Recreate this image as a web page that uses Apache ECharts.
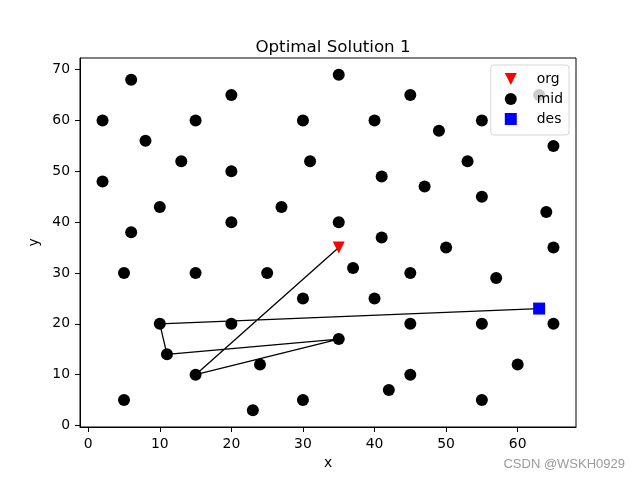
<!DOCTYPE html>
<html>
<head>
<meta charset="utf-8">
<script src="https://cdn.jsdelivr.net/npm/echarts@6/dist/echarts.min.js"></script>
<style>html,body{margin:0;padding:0;background:#fff}#c{width:640px;height:480px}</style>
</head>
<body>
<div id="c"></div>
<script>
const titleText = 'Optimal Solution 1';
const xTicks = [0, 10, 20, 30, 40, 50, 60];
const yTicks = [0, 10, 20, 30, 40, 50, 60, 70];
const orgX = [35];
const orgY = [35];
const desX = [63];
const desY = [23];
const midX = [41,35,55,55,15,25,20,10,55,30,20,50,30,15,30,10,5,20,15,45,45,45,55,65,65,45,35,41,64,40,31,35,53,65,63,2,20,5,60,40,42,24,23,11,6,2,8,13,6,47,49,27,37,57];
const midY = [49,17,45,20,30,30,50,43,60,60,65,35,25,10,5,20,30,40,60,65,20,10,5,35,20,30,40,37,42,60,52,69,52,55,65,60,20,5,12,25,7,12,3,14,38,48,56,52,68,47,58,43,31,29];
const routeX = [35, 15, 35, 11, 10, 63];
const routeY = [35, 10, 17, 14, 20, 23];

const zip = (a, b) => a.map((v, i) => [v, b[i]]);
const font = 'DejaVu Sans';
const chart = echarts.init(document.getElementById('c'), null, {renderer: 'canvas'});
chart.setOption({
  backgroundColor: '#fff',
  animation: false,
  title: {
    text: titleText, left: 328, top: 34, textAlign: 'center',
    textStyle: {fontFamily: font, fontSize: 16.7, fontWeight: 'normal', color: '#000'}
  },
  grid: {left: 80, right: 64, top: 58, bottom: 53, show: true, borderColor: '#000', borderWidth: 1, backgroundColor: 'transparent'},
  xAxis: {
    type: 'value', min: -1.15, max: 68.15, name: 'x', nameLocation: 'middle', nameGap: 28,
    nameTextStyle: {fontFamily: font, fontSize: 13.9, color: '#000'},
    splitLine: {show: false},
    axisLine: {onZero: false, lineStyle: {color: '#000', width: 1}},
    axisTick: {show: true, length: 5, lineStyle: {color: '#000'}, customValues: xTicks},
    axisLabel: {fontFamily: font, fontSize: 13.9, color: '#000', margin: 10, customValues: xTicks}
  },
  yAxis: {
    type: 'value', min: -0.3, max: 72.3, name: 'y', nameLocation: 'middle', nameGap: 38,
    nameTextStyle: {fontFamily: font, fontSize: 13.9, color: '#000'},
    splitLine: {show: false},
    axisLine: {show: true, onZero: false, lineStyle: {color: '#000', width: 1}},
    axisTick: {show: true, length: 5, lineStyle: {color: '#000'}, customValues: yTicks},
    axisLabel: {fontFamily: font, fontSize: 13.9, color: '#000', margin: 10, customValues: yTicks}
  },
  legend: {
    orient: 'vertical', right: 71, top: 65, z: 20,
    data: [
      {name: 'org', icon: 'path://M0,0L2,0L1,2Z'},
      {name: 'mid', icon: 'circle'},
      {name: 'des', icon: 'path://M0,0L1,0L1,1L0,1Z'}
    ],
    itemWidth: 12, itemHeight: 12, itemGap: 6,
    padding: [7, 6, 9, 14],
    backgroundColor: 'rgba(255,255,255,0.8)', borderColor: '#d6d6d6', borderWidth: 1, borderRadius: 3,
    textStyle: {fontFamily: font, fontSize: 13.9, color: '#000', lineHeight: 12, height: 12, padding: [0, 0, 0, 15]}
  },
  graphic: [{
    type: 'text', right: 15, top: 458,
    style: {text: 'CSDN @WSKH0929', fontFamily: 'Liberation Sans', fontSize: 13, fill: '#9a9a9a'}
  }],
  series: [
    {
      type: 'line', name: 'route', data: zip(routeX, routeY), symbol: 'none', z: 1,
      lineStyle: {color: '#000', width: 1.3}, silent: true
    },
    {
      type: 'scatter', name: 'org', data: zip(orgX, orgY), z: 2,
      symbol: 'path://M0,0L2,0L1,2Z', symbolSize: 12, itemStyle: {color: '#ff0000', opacity: 1}
    },
    {
      type: 'scatter', name: 'mid', data: zip(midX, midY), z: 2,
      symbol: 'circle', symbolSize: 12, itemStyle: {color: '#000', opacity: 1}
    },
    {
      type: 'scatter', name: 'des', data: zip(desX, desY), z: 2,
      symbol: 'path://M0,0L1,0L1,1L0,1Z', symbolSize: 12, itemStyle: {color: '#0000ff', opacity: 1}
    }
  ]
});
</script>
</body>
</html>
